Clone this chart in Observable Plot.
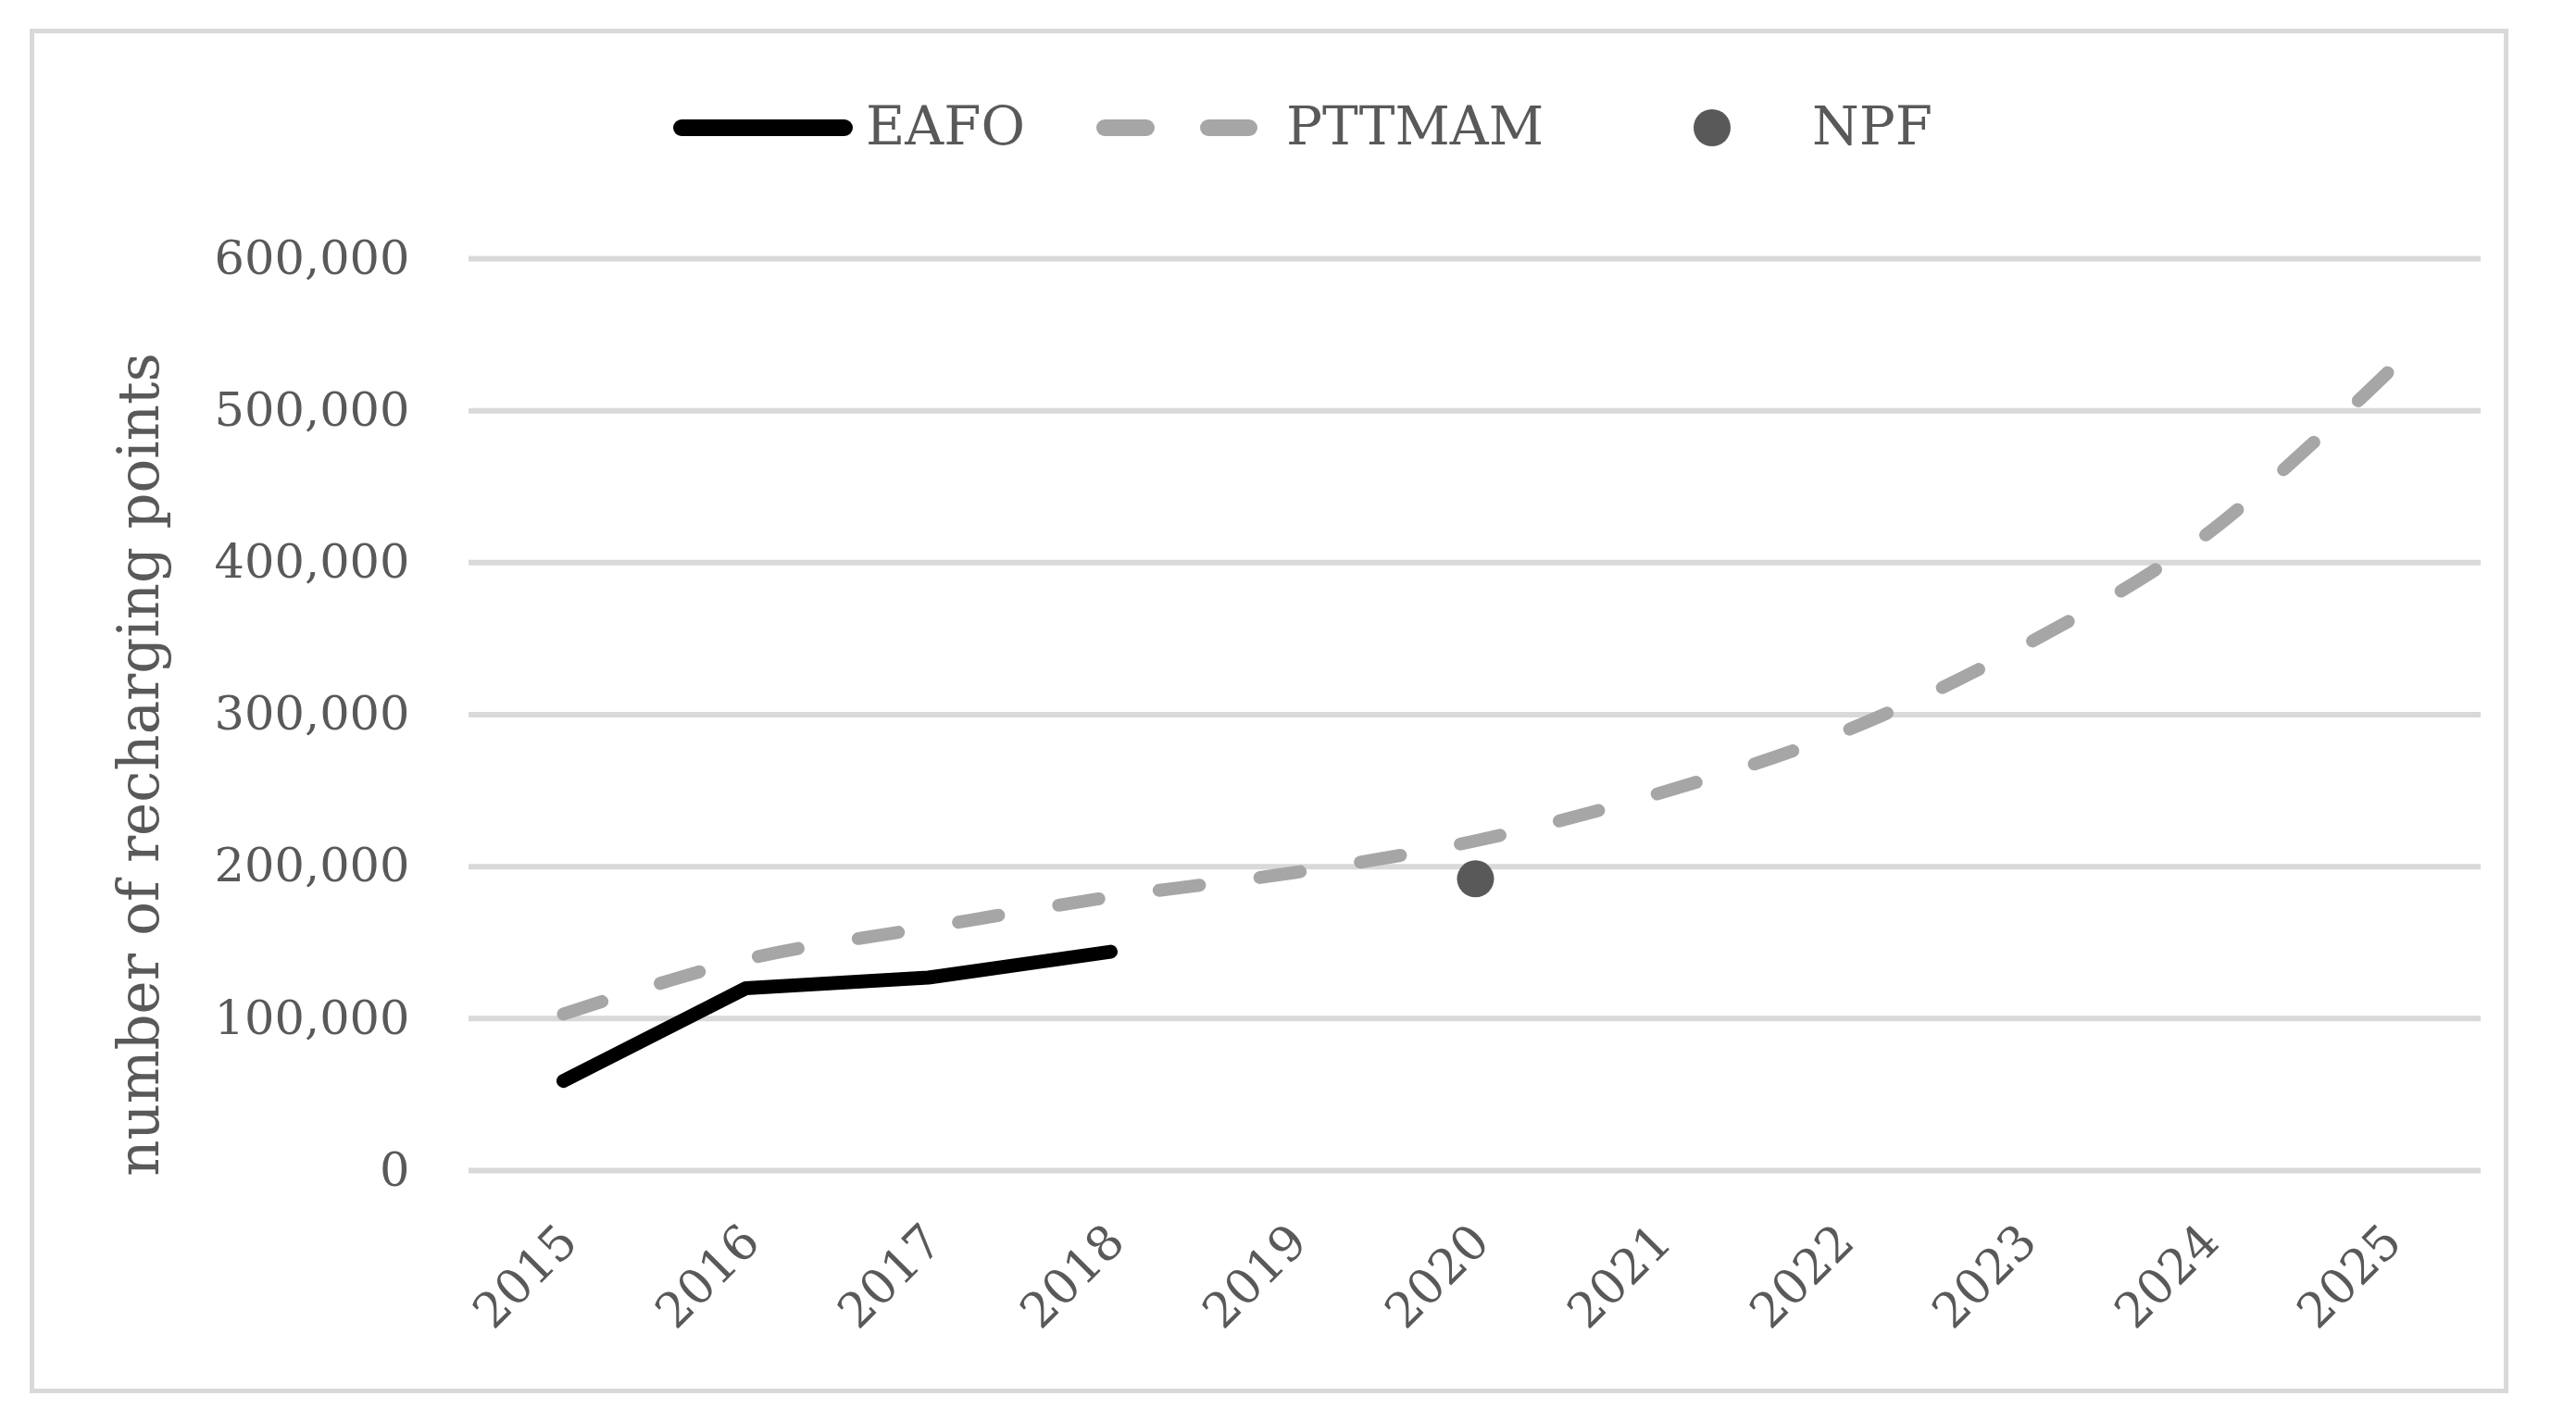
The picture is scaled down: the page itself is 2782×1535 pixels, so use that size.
<!DOCTYPE html>
<html>
<head>
<meta charset="utf-8">
<script src="https://cdn.jsdelivr.net/npm/d3@7"></script>
<script src="https://cdn.jsdelivr.net/npm/@observablehq/plot@0.6"></script>
<style>
  html, body { margin: 0; padding: 0; background: #ffffff; }
  body { width: 2782px; height: 1535px; position: relative; overflow: hidden; font-family: "DejaVu Serif", serif; }
  #frame { position: absolute; left: 32px; top: 31px; width: 2677px; height: 1474px; border: 5px solid #d9d9d9; box-sizing: border-box; }
  #chart { position: absolute; left: 0; top: 200px; }
  #legend { position: absolute; left: 0; top: 0; width: 2782px; height: 200px; }
  .lg-text { position: absolute; top: 136px; transform: translateY(-50%); font-size: 58px; color: #595959; line-height: 1; white-space: nowrap; }
</style>
</head>
<body>
<div id="frame"></div>
<div id="legend"></div>
<div id="chart"></div>
<script>
// ---- data ----
const years = ["2015","2016","2017","2018","2019","2020","2021","2022","2023","2024","2025"];
const eafoYears = ["2015","2016","2017","2018"];
const eafoValues = [59000, 120000, 127000, 144000];
const pttmamValues = [103000, 139000, 160000, 180000, 196000, 217000, 248000, 288000, 345000, 418000, 525000];
const npfYears = ["2020"];
const npfValues = [192000];
const yTicks = [0, 100000, 200000, 300000, 400000, 500000, 600000];
const seriesNames = ["EAFO", "PTTMAM", "NPF"];
const yTitle = "number of recharging points";

const eafo = eafoYears.map((y, i) => ({year: y, value: eafoValues[i]}));
const pttmam = years.map((y, i) => ({year: y, value: pttmamValues[i]}));
const npf = npfYears.map((y, i) => ({year: y, value: npfValues[i]}));

const textColor = "#595959";

const plot = Plot.plot({
  width: 2782,
  height: 1300,
  marginLeft: 506,
  marginRight: 103,
  marginTop: 79,
  marginBottom: 236,
  style: {fontFamily: "DejaVu Serif", color: textColor, background: "transparent", overflow: "visible"},
  x: {type: "point", domain: years, padding: 0.5},
  y: {domain: [0, 600000]},
  marks: [
    Plot.gridY(yTicks, {stroke: "#d9d9d9", strokeOpacity: 1, strokeWidth: 6}),
    Plot.axisY({ticks: yTicks, tickSize: 0, tickPadding: 64, tickFormat: d3.format(","), fontSize: 51, label: null}),
    Plot.axisX({tickSize: 0, tickPadding: 68, tickRotate: -45, fontSize: 52, dx: 6, label: null}),
    Plot.text([yTitle], {frameAnchor: "left", textAnchor: "middle", dx: -355, dy: 54, rotate: -90, fontSize: 61, fill: textColor}),
    Plot.line(pttmam, {x: "year", y: "value", stroke: "#a6a6a6", strokeWidth: 14, strokeDasharray: "44,66", strokeLinecap: "round", curve: "catmull-rom"}),
    Plot.line(eafo, {x: "year", y: "value", stroke: "#000000", strokeWidth: 15, strokeLinecap: "round", strokeLinejoin: "round"}),
    Plot.dot(npf, {x: "year", y: "value", r: 20, fill: "#595959", stroke: "none"})
  ]
});
document.getElementById("chart").appendChild(plot);

// align the dash pattern so the projection ends on a dash (as in the reference)
(function () {
  const g = plot.querySelector('[stroke-dasharray]');
  if (!g) return;
  const path = g.tagName.toLowerCase() === "path" ? g : g.querySelector("path");
  if (!path) return;
  const L = path.getTotalLength();
  const d = 44, gap = 66, p = d + gap;
  const n = Math.max(1, Math.round((L - d) / p));
  const s = L / (n * p + d);
  g.setAttribute("stroke-dasharray", `${d * s},${gap * s}`);
})();

// ---- legend ----
const legend = document.getElementById("legend");
const ns = "http://www.w3.org/2000/svg";
const lsvg = document.createElementNS(ns, "svg");
lsvg.setAttribute("width", 2782);
lsvg.setAttribute("height", 200);
lsvg.style.position = "absolute";
lsvg.style.left = "0px";
lsvg.style.top = "0px";
function ln(x1, x2, attrs) {
  const l = document.createElementNS(ns, "line");
  l.setAttribute("x1", x1); l.setAttribute("x2", x2);
  l.setAttribute("y1", 138); l.setAttribute("y2", 138);
  for (const k in attrs) l.setAttribute(k, attrs[k]);
  lsvg.appendChild(l);
}
ln(736, 912, {stroke: "#000", "stroke-width": 18, "stroke-linecap": "round"});
ln(1193, 1238, {stroke: "#a6a6a6", "stroke-width": 18, "stroke-linecap": "round"});
ln(1305, 1349, {stroke: "#a6a6a6", "stroke-width": 18, "stroke-linecap": "round"});
const c = document.createElementNS(ns, "circle");
c.setAttribute("cx", 1849); c.setAttribute("cy", 138); c.setAttribute("r", 20); c.setAttribute("fill", "#595959");
lsvg.appendChild(c);
legend.appendChild(lsvg);
const textX = [935, 1389, 1957];
seriesNames.forEach((n, i) => {
  const s = document.createElement("div");
  s.className = "lg-text";
  s.style.left = textX[i] + "px";
  s.textContent = n;
  legend.appendChild(s);
});
</script>
</body>
</html>
